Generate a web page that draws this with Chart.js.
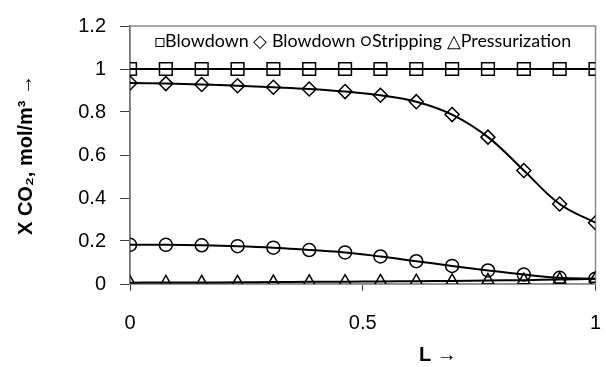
<!DOCTYPE html>
<html lang="en">
  <head>
    <meta charset="UTF-8" />
    <title>X CO2 vs L</title>
    <style>
      html, body { margin: 0; padding: 0; background: #fff; }
      #wrap { width: 606px; height: 367px; }
    </style>
  </head>
  <body>
    <div id="wrap">
      <canvas id="myChart" width="606" height="367"></canvas>
    </div>
    <script src="https://cdn.jsdelivr.net/npm/chart.js"></script>
    <script>
        const lengths = [0, 0.077, 0.154, 0.231, 0.308, 0.385, 0.462, 0.538, 0.615, 0.692, 0.769, 0.846, 0.923, 1];
        const blowdownSq = [1, 1, 1, 1, 1, 1, 1, 1, 1, 1, 1, 1, 1, 1];
        const blowdownDia = [0.935, 0.932, 0.928, 0.922, 0.915, 0.907, 0.895, 0.878, 0.848, 0.788, 0.683, 0.528, 0.372, 0.285];
        const stripping = [0.182, 0.182, 0.180, 0.176, 0.169, 0.158, 0.147, 0.128, 0.106, 0.084, 0.063, 0.044, 0.029, 0.025];
        const pressurization = [0.006, 0.007, 0.007, 0.008, 0.009, 0.010, 0.011, 0.012, 0.013, 0.014, 0.016, 0.018, 0.021, 0.024];
        const seriesNames = ["Blowdown", "Blowdown", "Stripping", "Pressurization"];
        const legendMarks = ["\u25a1", "\u25c7 ", "\u25cb", "\u25b3"];
        const yTicks = [0, 0.2, 0.4, 0.6, 0.8, 1, 1.2];
        const xTicks = [0, 0.5, 1];

        const toPoints = (ys) => ys.map((y, i) => ({x: lengths[i], y: y}));

        const chartAreaBorder = {
            id: 'chartAreaBorder',
            beforeDatasetsDraw(chart) {
                const {ctx, chartArea: {left, top, width, height}} = chart;
                ctx.save();
                ctx.strokeStyle = '#8c8c8c';
                ctx.lineWidth = 1.5;
                ctx.strokeRect(left, top, width, height);
                ctx.restore();
            }
        };

        // the original legend is one line of text with symbol characters, inside the plot
        const insideLegend = {
            id: 'insideLegend',
            afterDraw(chart) {
                const {ctx, chartArea: {left, right, top}} = chart;
                const txt = seriesNames.map((n, i) => legendMarks[i] + n).join(' ');
                ctx.save();
                ctx.font = "16px Lato, sans-serif";
                const w = ctx.measureText(txt).width;
                const size = 16 * 415 / w;
                ctx.font = size.toFixed(1) + "px Lato, sans-serif";
                ctx.textAlign = 'center';
                ctx.textBaseline = 'middle';
                ctx.fillStyle = '#000';
                ctx.fillText(txt, (left + right) / 2, top + 15);
                ctx.restore();
            }
        };

        function series(label, values, style, radius) {
            return {
                label: label,
                data: toPoints(values),
                borderColor: '#000',
                borderWidth: 2,
                pointStyle: style,
                pointRadius: radius,
                pointBackgroundColor: 'rgba(255,255,255,0)',
                pointBorderColor: '#000',
                pointBorderWidth: 1.5,
                tension: 0.4,
                fill: false
            };
        }

        const data = {
            datasets: [
                series(seriesNames[0], blowdownSq, 'rect', 9),
                series(seriesNames[1], blowdownDia, 'rectRot', 7),
                series(seriesNames[2], stripping, 'circle', 6.5),
                series(seriesNames[3], pressurization, 'triangle', 7)
            ]
        };

        const tickFont = { family: "'Liberation Sans', Arial, sans-serif", size: 20 };
        const titleFont = { family: "'Liberation Sans', Arial, sans-serif", size: 20, weight: 'bold' };
        const fmt = (v) => String(Number(v.toFixed(2)));

        const config = {
            type: "line",
            data: data,
            plugins: [chartAreaBorder, insideLegend],
            options: {
                responsive: false,
                animation: false,
                layout: { padding: { top: 22, right: 6, left: 0, bottom: 0 } },
                plugins: {
                    legend: { display: false },
                    tooltip: { enabled: false }
                },
                scales: {
                    x: {
                        type: 'linear',
                        min: 0,
                        max: 1,
                        afterBuildTicks: (s) => { s.ticks = xTicks.map(v => ({value: v})); },
                        afterFit: (s) => { s.height = 83; s.paddingRight = 6; s.paddingLeft = 0; },
                        border: { color: '#8c8c8c', width: 1.5 },
                        grid: { drawOnChartArea: false, tickLength: 7, color: '#404040' },
                        ticks: { color: '#000', font: tickFont, padding: 20, maxRotation: 0, callback: fmt },
                        title: { display: true, text: '                           L \u2192', color: '#000', font: titleFont, padding: 0 }
                    },
                    y: {
                        min: 0,
                        max: 1.2,
                        afterBuildTicks: (s) => { s.ticks = yTicks.map(v => ({value: v})); },
                        afterFit: (s) => { s.width = 130; },
                        border: { color: '#404040', width: 1.5 },
                        grid: { drawOnChartArea: false, tickLength: 10, color: '#404040' },
                        ticks: { color: '#000', font: tickFont, padding: 14, callback: fmt },
                        title: { display: true, text: 'X CO\u2082, mol/m\u00b3 \u2192', color: '#000', font: titleFont, padding: { top: 14, bottom: 0 } }
                    }
                }
            }
        };

        const myChart = new Chart(document.getElementById("myChart"), config);
    </script>
  </body>
</html>
